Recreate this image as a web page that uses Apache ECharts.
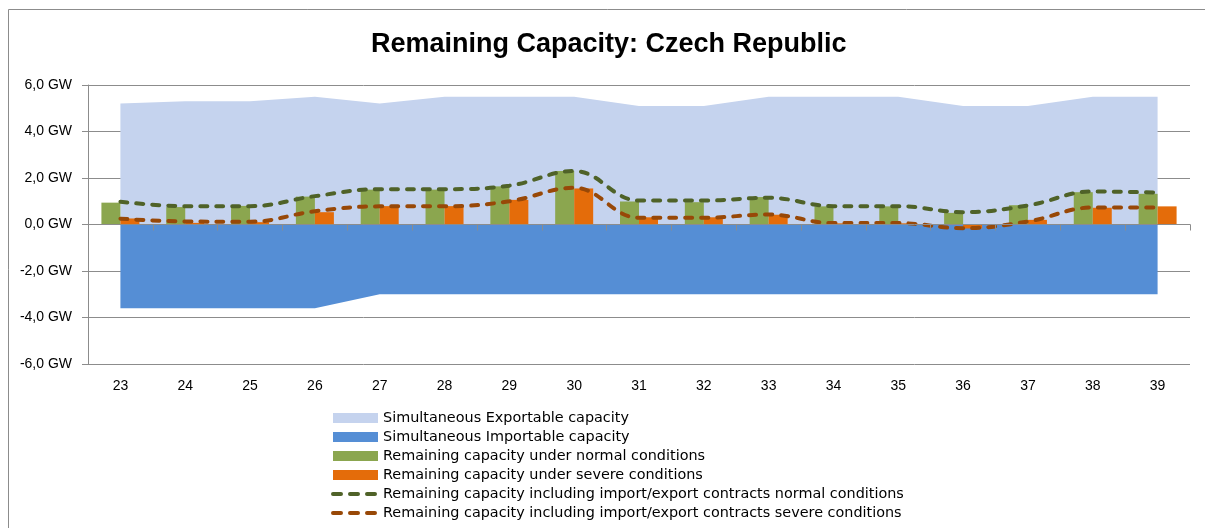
<!DOCTYPE html>
<html>
<head>
<meta charset="utf-8">
<script src="https://cdn.jsdelivr.net/npm/echarts@6/dist/echarts.min.js"></script>
<style>
  html, body { margin: 0; padding: 0; background: #fff; }
  #main { width: 1205px; height: 528px; }
</style>
</head>
<body>
<div id="main"></div>
<script>
// weeks on the x axis
var weeks = ['23', '24', '25', '26', '27', '28', '29', '30', '31', '32', '33', '34', '35', '36', '37', '38', '39'];

// GW values
var exportable = [5.2, 5.3, 5.3, 5.5, 5.2, 5.5, 5.5, 5.5, 5.1, 5.1, 5.5, 5.5, 5.5, 5.1, 5.1, 5.5, 5.5];
var importable = [-3.6, -3.6, -3.6, -3.6, -3.0, -3.0, -3.0, -3.0, -3.0, -3.0, -3.0, -3.0, -3.0, -3.0, -3.0, -3.0, -3.0];
var normalRc = [0.94, 0.75, 0.8, 1.2, 1.5, 1.5, 1.64, 2.3, 0.99, 0.96, 1.18, 0.78, 0.78, 0.5, 0.83, 1.39, 1.32];
var severeRc = [0.26, 0.07, 0.1, 0.53, 0.79, 0.79, 1.06, 1.55, 0.31, 0.31, 0.42, 0.05, 0.05, -0.17, 0.2, 0.72, 0.78];
var normalContracts = [0.98, 0.79, 0.79, 1.22, 1.52, 1.52, 1.67, 2.3, 1.03, 1.03, 1.15, 0.79, 0.79, 0.53, 0.82, 1.42, 1.37];
var severeContracts = [0.25, 0.13, 0.12, 0.57, 0.78, 0.78, 1.0, 1.58, 0.29, 0.29, 0.43, 0.06, 0.06, -0.16, 0.13, 0.73, 0.73];

var yTicks = [-6, -4, -2, 0, 2, 4, 6];

var names = [
    'Simultaneous Exportable capacity',
    'Simultaneous Importable capacity',
    'Remaining capacity under normal conditions',
    'Remaining capacity under severe conditions',
    'Remaining capacity including import/export contracts normal conditions',
    'Remaining capacity including import/export contracts severe conditions'
];

var font = 'Liberation Sans';
var axisGray = '#8c8c8c';
// 图例里的虚线
var legendDash = { width: 4, type: [8, 9], cap: 'round' };

var myChart = echarts.init(document.getElementById('main'));

var option = {
    animation: false,
    backgroundColor: '#fff',
    textStyle: { fontFamily: font },
    graphic: [{
        type: 'rect',
        shape: { x: 8.5, y: 9.5, width: 1400, height: 700 },
        style: { fill: 'none', stroke: '#8c8c8c', lineWidth: 1 },
        silent: true
    }],
    title: {
        text: 'Remaining Capacity: Czech Republic',
        left: 371,
        top: 31,
        padding: 0,
        textStyle: { fontFamily: font, fontSize: 27, fontWeight: 'bold', color: '#000' }
    },
    legend: {
        orient: 'vertical',
        left: 331,
        top: 411,
        height: 200,
        padding: 0,
        itemWidth: 45,
        itemHeight: 10,
        itemGap: 5,
        textStyle: { fontFamily: 'DejaVu Sans', fontSize: 14.4, color: '#000' },
        data: [
            { name: names[0], icon: 'rect' },
            { name: names[1], icon: 'rect' },
            { name: names[2], icon: 'rect' },
            { name: names[3], icon: 'rect' },
            { name: names[4], itemStyle: { opacity: 0 }, lineStyle: legendDash },
            { name: names[5], itemStyle: { opacity: 0 }, lineStyle: legendDash }
        ]
    },
    grid: { left: 88, right: 15, top: 85, bottom: 164, containLabel: false },
    xAxis: [{
        type: 'category',
        data: weeks,
        boundaryGap: true,
        axisLine: { onZero: true, lineStyle: { color: axisGray, width: 1 } },
        axisTick: { show: true, length: 6, lineStyle: { color: axisGray } },
        axisLabel: { show: false },
        z: 5
    }, {
        type: 'category',
        data: weeks,
        position: 'bottom',
        boundaryGap: true,
        axisLine: { show: false, onZero: false },
        axisTick: { show: false },
        axisLabel: { margin: 15, fontFamily: font, fontSize: 14, color: '#000' }
    }],
    yAxis: {
        type: 'value',
        min: yTicks[0],
        max: yTicks[yTicks.length - 1],
        interval: 2,
        axisLine: { show: true, lineStyle: { color: axisGray, width: 1 } },
        axisTick: { show: true, length: 6, lineStyle: { color: axisGray } },
        axisLabel: {
            margin: 16,
            fontFamily: font,
            fontSize: 14,
            color: '#000',
            formatter: function (v) { return v.toFixed(1).replace('.', ',') + ' GW'; }
        },
        splitLine: { show: true, lineStyle: { color: axisGray, width: 1 } }
    },
    series: [{
        name: names[0],
        type: 'line',
        data: exportable,
        color: '#c5d3ee',
        symbol: 'none',
        lineStyle: { width: 0 },
        areaStyle: { color: '#c5d3ee', opacity: 1 },
        z: 1
    }, {
        name: names[1],
        type: 'line',
        data: importable,
        color: '#558ed5',
        symbol: 'none',
        lineStyle: { width: 0 },
        areaStyle: { color: '#558ed5', opacity: 1 },
        z: 1
    }, {
        name: names[2],
        type: 'bar',
        data: normalRc,
        barWidth: 19,
        barGap: '0%',
        itemStyle: { color: '#8ba64f' },
        z: 2
    }, {
        name: names[3],
        type: 'bar',
        data: severeRc,
        barWidth: 19,
        barGap: '0%',
        itemStyle: { color: '#e46c0a' },
        z: 2
    }, {
        name: names[4],
        type: 'line',
        data: normalContracts,
        color: '#4f6228',
        smooth: 0.4,
        symbol: 'none',
        lineStyle: { color: '#4f6228', width: 4, type: [7, 9], cap: 'round' },
        z: 3
    }, {
        name: names[5],
        type: 'line',
        data: severeContracts,
        color: '#984807',
        smooth: 0.4,
        symbol: 'none',
        lineStyle: { color: '#984807', width: 4, type: [7, 9], cap: 'round' },
        z: 3
    }]
};

myChart.setOption(option);

window.addEventListener('resize', () => {
    myChart.resize();
});
</script>
</body>
</html>
